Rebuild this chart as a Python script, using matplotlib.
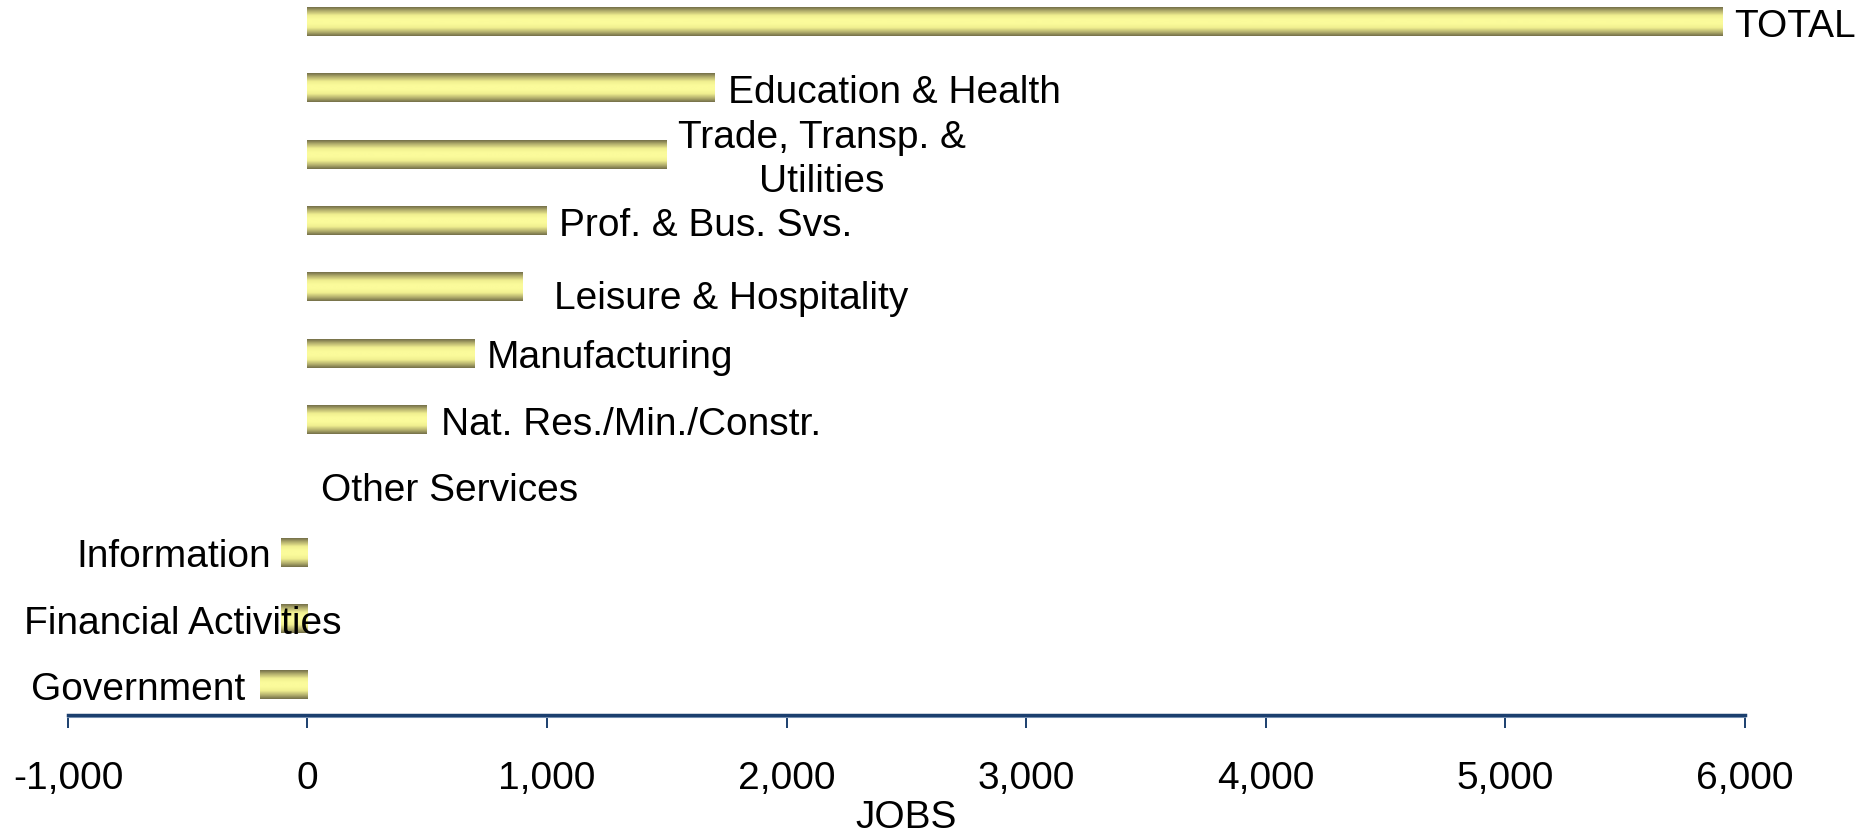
import matplotlib
matplotlib.use("Agg")
import matplotlib.pyplot as plt
import matplotlib.transforms as mtransforms
import numpy as np
from matplotlib.colors import LinearSegmentedColormap
from matplotlib.ticker import FuncFormatter

plt.rcParams['font.family'] = ['Liberation Sans', 'DejaVu Sans']

# data, top to bottom
categories = ["TOTAL", "Education & Health", "Trade, Transp. &\nUtilities",
              "Prof. & Bus. Svs.", "Leisure & Hospitality", "Manufacturing",
              "Nat. Res./Min./Constr.", "Other Services", "Information",
              "Financial Activities", "Government"]
jobs = [5910, 1700, 1500, 1000, 900, 700, 500, 0, -110, -110, -200]
x_ticks = [-1000, 0, 1000, 2000, 3000, 4000, 5000, 6000]

# label offsets in pixels from the bar end (dx, dy, ha)
label_pos = [(11, -4, 'left'), (13, -4, 'left'), (11, -5, 'left'), (12, -4, 'left'),
             (31, -11, 'left'), (12, -4, 'left'), (14, -4, 'left'), (14, -4, 'left'),
             (-10, -4, 'right'), (60, -4, 'right'), (-14, -4, 'right')]

navy = '#1b3f6e'
cmap = LinearSegmentedColormap.from_list(
    'tube', ['#75704a', '#b9b570', '#f0ef90', '#fbfb9b', '#fbfb9b',
             '#f0ef90', '#b9b570', '#75704a'])

fig = plt.figure(figsize=(18.68, 8.37), dpi=100)
ax = fig.add_axes([0.0364, 0.1446, 0.8975, 0.8554])

y = np.arange(len(categories))[::-1]
bars = ax.barh(y, jobs, height=0.43, color='none', edgecolor='none')
grad = np.linspace(0, 1, 64).reshape(-1, 1)
for b in bars:
    w = b.get_width()
    if w == 0:
        continue
    x0 = b.get_x()
    ax.imshow(grad, extent=[x0, x0 + w, b.get_y(), b.get_y() + b.get_height()],
              cmap=cmap, aspect='auto', origin='lower', zorder=2,
              interpolation='bilinear')

for yi, v, name, (dx, dy, ha) in zip(y, jobs, categories, label_pos):
    ax.annotate(name, xy=(v, yi), xytext=(dx, dy), textcoords='offset pixels',
                ha=ha, va='center', multialignment='center', fontsize=28,
                linespacing=1.3, color='black', zorder=3)

ax.set_xlim(-1000, 6000)
ax.set_ylim(-0.45, 10.34)
ax.set_xticks(x_ticks)
ax.xaxis.set_major_formatter(FuncFormatter(lambda v, p: f"{int(v):,}"))
ax.set_yticks([])
for s in ['top', 'right', 'left']:
    ax.spines[s].set_visible(False)
ax.spines['bottom'].set_color(navy)
ax.spines['bottom'].set_linewidth(2.5)
# light shadow line under the axis
shadow = mtransforms.offset_copy(ax.transAxes, fig=fig, x=0, y=-2.5, units='dots')
ax.plot([0, 1], [0, 0], color='#8fa6c4', lw=1.5, transform=shadow, clip_on=False)
ax.tick_params(axis='x', direction='out', length=9.5, width=1.4, color=navy,
               labelsize=28, pad=23)
ax.set_xlabel('JOBS', fontsize=28, labelpad=2)
ax.set_facecolor('white')

fig.savefig('out.png', dpi=100, facecolor='white')
